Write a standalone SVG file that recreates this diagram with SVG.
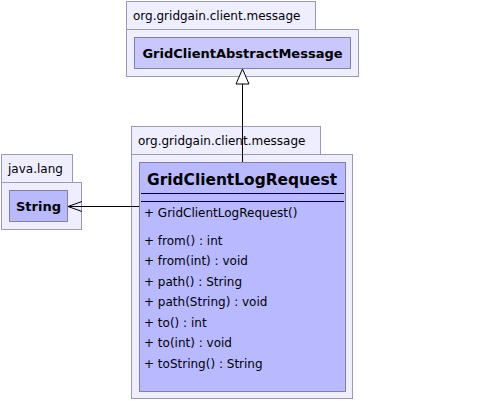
<svg xmlns="http://www.w3.org/2000/svg" width="495" height="401" viewBox="0 0 495 401">
<style>
.pkg{fill:#eeeeff;stroke:#9a9ab4;stroke-width:1}
.cls{stroke:#8080a8;stroke-width:1}
text{font-family:"DejaVu Sans","Liberation Sans",sans-serif;fill:#000}
.pl{font-size:12px}
.cn{font-size:13px;font-weight:bold}
.m{font-size:12px}
.ln{stroke:#000;stroke-width:1;fill:none}
</style>
<rect width="495" height="401" fill="#fff"/>
<g id="pkg-top">
<rect class="pkg" x="126.5" y="1.5" width="189" height="28"/>
<rect class="pkg" x="126.5" y="29.5" width="232" height="47"/>
<text class="pl" x="133" y="20">org.gridgain.client.message</text>
</g>
<g id="GridClientAbstractMessage">
<rect class="cls" x="134.5" y="37.5" width="216" height="31" fill="#c8c8ff"/>
<text class="cn" x="242.5" y="58" text-anchor="middle">GridClientAbstractMessage</text>
</g>
<g id="pkg-mid">
<rect class="pkg" x="131.5" y="126.5" width="189" height="28"/>
<rect class="pkg" x="131.5" y="154.5" width="221" height="244"/>
<text class="pl" x="138" y="145">org.gridgain.client.message</text>
</g>
<g id="GridClientLogRequest">
<rect class="cls" x="139.5" y="162.5" width="206" height="229" fill="#b9b9ff"/>
<text x="147" y="185" font-size="16.5" font-weight="bold" textLength="190" lengthAdjust="spacingAndGlyphs">GridClientLogRequest</text>
<line class="ln" x1="141" y1="193.5" x2="344" y2="193.5"/>
<line class="ln" x1="141" y1="201.5" x2="344" y2="201.5"/>
<text class="m" x="144" y="216.5">+ GridClientLogRequest()</text>
<text class="m" x="144" y="244.5">+ from() : int</text>
<text class="m" x="144" y="265">+ from(int) : void</text>
<text class="m" x="144" y="285.5">+ path() : String</text>
<text class="m" x="144" y="306">+ path(String) : void</text>
<text class="m" x="144" y="326.5">+ to() : int</text>
<text class="m" x="144" y="347">+ to(int) : void</text>
<text class="m" x="144" y="368">+ toString() : String</text>
</g>
<g id="pkg-java">
<rect class="pkg" x="1.5" y="154.5" width="71" height="28"/>
<rect class="pkg" x="1.5" y="182.5" width="80" height="47"/>
<text class="pl" x="8" y="173">java.lang</text>
</g>
<g id="String">
<rect class="cls" x="9.5" y="190.5" width="58" height="31" fill="#b9b9ff"/>
<text class="cn" x="38.5" y="210.5" text-anchor="middle">String</text>
</g>
<g id="connectors">
<line class="ln" x1="242.5" y1="162" x2="242.5" y2="84"/>
<polygon points="242.5,69 236,84 249,84" fill="#fff" stroke="#000" stroke-width="1"/>
<line class="ln" x1="139" y1="206.5" x2="68" y2="206.5"/>
<polyline class="ln" points="82,201.5 68,206.5 82,211.5"/>
</g>
</svg>
